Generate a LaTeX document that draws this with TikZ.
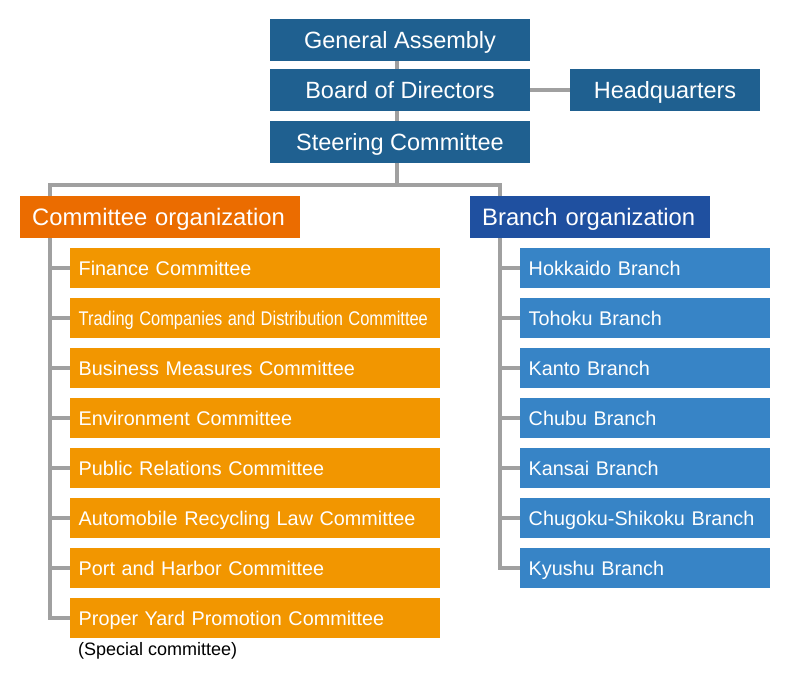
\documentclass[tikz,border=0pt]{standalone}
\usepackage{fontspec}
\setmainfont{Liberation Sans}
\usepackage{graphicx}
\definecolor{topblue}{HTML}{1F6090}
\definecolor{comorg}{HTML}{EB6C00}
\definecolor{comitemc}{HTML}{F29600}
\definecolor{brorg}{HTML}{1F50A0}
\definecolor{britemc}{HTML}{3784C6}
\definecolor{linegray}{HTML}{A0A0A0}
\begin{document}
\begin{tikzpicture}[x=1pt,y=-1pt,
  box/.style={rectangle, inner sep=0pt, text=white},
  topbox/.style={box, fill=topblue, minimum height=42pt, font=\fontsize{23.5}{28}\selectfont, text height=16.8pt, text depth=0pt},
  orgbox/.style={box, minimum height=42pt, inner xsep=12pt, font=\fontsize{23.8}{28}\selectfont, text height=17pt, text depth=0pt, align=left, anchor=north west},
  item/.style={box, minimum height=40pt, inner xsep=8.5pt, font=\fontsize{19.8}{24}\selectfont, text height=14.2pt, text depth=0pt, anchor=north west, align=left},
  comitem/.style={item, fill=comitemc, text width=353pt, minimum width=370pt},
  britem/.style={item, fill=britemc, text width=233pt, minimum width=250pt},
  conn/.style={draw=linegray, line width=3.5pt}]
\useasboundingbox (0,0) rectangle (800,680);

% top
\node[topbox, minimum width=260pt] (ga) at (400,40) {General Assembly};
\node[topbox, minimum width=260pt] (bod) at (400,90) {Board of Directors};
\node[topbox, minimum width=260pt] (st) at (400,142) {Steering Committee};
\node[topbox, minimum width=190pt] (hq) at (665,90) {Headquarters};

% organizations
\node[orgbox, fill=comorg, minimum width=280pt, text width=256pt] (co) at (20,196) {Committee organization};
\node[orgbox, fill=brorg, minimum width=240pt, text width=216pt] (bo) at (470,196) {Branch organization};

% committee items
\node[comitem] (c1) at (70,248) {Finance Committee};
\node[comitem] (c2) at (70,298) {\scalebox{0.83}[1]{Trading Companies and Distribution Committee}};
\node[comitem] (c3) at (70,348) {Business Measures Committee};
\node[comitem] (c4) at (70,398) {Environment Committee};
\node[comitem] (c5) at (70,448) {Public Relations Committee};
\node[comitem] (c6) at (70,498) {Automobile Recycling Law Committee};
\node[comitem] (c7) at (70,548) {Port and Harbor Committee};
\node[comitem] (c8) at (70,598) {Proper Yard Promotion Committee};
\node[anchor=base west, inner sep=0pt, font=\fontsize{18}{21}\selectfont] (sp) at (78,655) {(Special committee)};

% branch items
\node[britem] (b1) at (520,248) {Hokkaido Branch};
\node[britem] (b2) at (520,298) {Tohoku Branch};
\node[britem] (b3) at (520,348) {Kanto Branch};
\node[britem] (b4) at (520,398) {Chubu Branch};
\node[britem] (b5) at (520,448) {Kansai Branch};
\node[britem] (b6) at (520,498) {Chugoku-Shikoku Branch};
\node[britem] (b7) at (520,548) {Kyushu Branch};

% connectors
\coordinate (trunk) at (397,0);
\coordinate (barL) at (50,185);
\coordinate (barR) at (500,185);
\draw[conn] (ga.south -| trunk) -- (bod.north -| trunk);
\draw[conn] (bod.south -| trunk) -- (st.north -| trunk);
\draw[conn] (bod.east) -- (hq.west);
\draw[conn] (st.south -| trunk) -- (barL -| trunk);
\draw[conn] (barL |- co.north) -- (barL) -- (barR) -- (barR |- bo.north);
\draw[conn] (barL |- co.south) -- (barL |- c8.west) -- (c8.west);
\foreach \i in {1,...,7} {\draw[conn] (barL |- c\i.west) -- (c\i.west);}
\draw[conn] (barR |- bo.south) -- (barR |- b7.west) -- (b7.west);
\foreach \i in {1,...,6} {\draw[conn] (barR |- b\i.west) -- (b\i.west);}
\end{tikzpicture}
\end{document}
